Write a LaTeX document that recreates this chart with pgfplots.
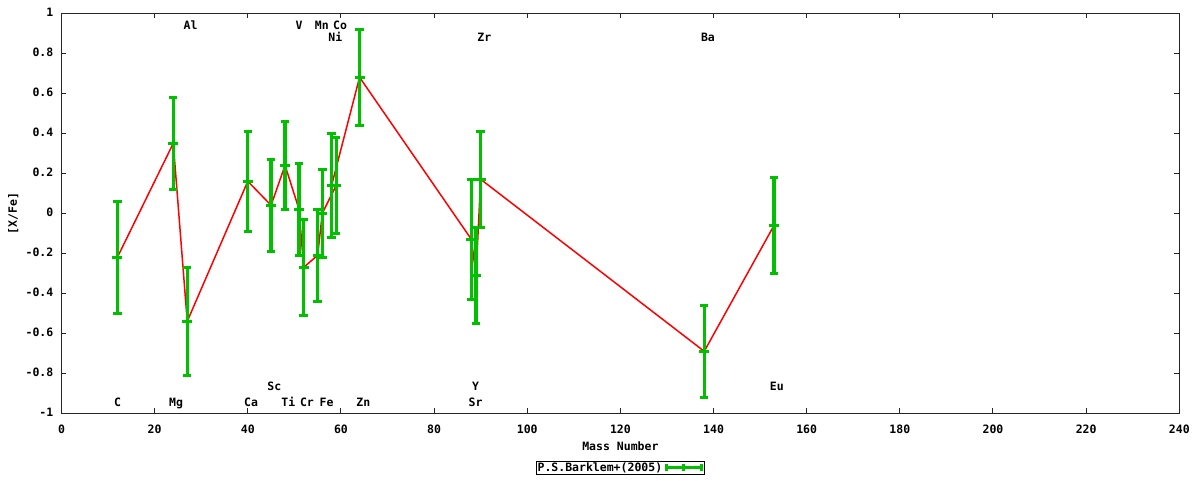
\documentclass[border=0pt]{standalone}
\usepackage{fontspec}
\setmainfont{DejaVu Sans Mono}
\usepackage{pgfplots}
\pgfplotsset{compat=1.18}
\definecolor{gpgreen}{RGB}{0,192,0}
\newcommand{\gpfont}{\fontsize{11.5}{12}\selectfont\bfseries}
\begin{document}
\begin{tikzpicture}
\path[use as bounding box] (-61.5pt,-66.7pt) rectangle (1138.5pt,413.3pt);
\begin{axis}[
  at={(0,0)}, anchor=south west,
  scale only axis, width=1117.8pt, height=400pt,
  xmin=0, xmax=240, ymin=-1, ymax=1,
  xtick={0,20,40,60,80,100,120,140,160,180,200,220,240},
  ytick={-1,-0.8,-0.6,-0.4,-0.2,0,0.2,0.4,0.6,0.8,1},
  tick align=inside, major tick length=5pt,
  xtick pos=both, ytick pos=both,
  axis line style={line width=1pt, black!85},
  tick style={line width=1pt, black!85},
  /pgf/number format/assume math mode=true,
  tick label style={font=\gpfont, inner sep=0pt},
  xticklabel style={anchor=base, yshift=-19.8pt},
  yticklabel style={anchor=mid east, xshift=-8pt},
  xlabel={Mass Number},
  ylabel={[X/Fe]},
  every axis x label/.style={at={(axis description cs:0.5,-0.092)}, anchor=base, font=\gpfont, inner sep=0pt},
  every axis y label/.style={at={(axis description cs:-0.0431,0.5)}, anchor=center, rotate=90, font=\gpfont, inner sep=0pt},
  legend plot pos=right,
  legend style={at={(axis description cs:0.5,-0.1367)}, anchor=center, draw=black, line width=1pt, inner sep=0.5pt, font=\gpfont, nodes={inner sep=1pt}},
  legend image code/.code={
    \draw[gpgreen, line width=3pt] (0pt,0pt) -- (38pt,0pt);
    \draw[gpgreen, line width=3pt] (1.5pt,-3.5pt) -- (1.5pt,3.5pt);
    \draw[gpgreen, line width=3pt] (36.5pt,-3.5pt) -- (36.5pt,3.5pt);
    \draw[gpgreen, line width=3pt] (19pt,-3.5pt) -- (19pt,3.5pt);
  },
]
\addplot[red, line width=1.5pt, forget plot] coordinates {
  (12,-0.22) (24,0.35) (27,-0.54) (40,0.16) (45,0.04) (48,0.24) (51,0.02) (52,-0.27)
  (55,-0.21) (56,0.00) (59,0.14) (58,0.14) (64,0.68) (88,-0.13) (89,-0.31) (90,0.17)
  (138,-0.69) (153,-0.06)
};
\addplot[gpgreen, only marks, mark=-, mark size=5pt, mark options={line width=3pt, gpgreen},
  error bars/.cd, y dir=both, y explicit,
  error bar style={line width=3.3pt, gpgreen},
  error mark options={rotate=90, mark size=4.2pt, line width=3pt, gpgreen}]
coordinates {
  (12,-0.22) +- (0,0.28)
  (24,0.35) +- (0,0.23)
  (27,-0.54) +- (0,0.27)
  (40,0.16) +- (0,0.25)
  (45,0.04) +- (0,0.23)
  (48,0.24) +- (0,0.22)
  (51,0.02) +- (0,0.23)
  (52,-0.27) +- (0,0.24)
  (55,-0.21) +- (0,0.23)
  (56,0.00) +- (0,0.22)
  (59,0.14) +- (0,0.24)
  (58,0.14) +- (0,0.26)
  (64,0.68) +- (0,0.24)
  (88,-0.13) +- (0,0.30)
  (89,-0.31) +- (0,0.24)
  (90,0.17) +- (0,0.24)
  (138,-0.69) +- (0,0.23)
  (153,-0.06) +- (0,0.24)
};
\addlegendentry{P.S.Barklem+(2005)}
% element labels
\begin{scope}[every node/.style={anchor=base, font=\gpfont, inner sep=0pt}]
\node at (axis cs:27.7,0.918) {Al};
\node at (axis cs:51.0,0.918) {V};
\node at (axis cs:55.9,0.918) {Mn};
\node at (axis cs:59.8,0.918) {Co};
\node at (axis cs:58.8,0.858) {Ni};
\node at (axis cs:90.8,0.858) {Zr};
\node at (axis cs:138.8,0.858) {Ba};
\node at (axis cs:45.7,-0.888) {Sc};
\node at (axis cs:88.9,-0.888) {Y};
\node at (axis cs:153.6,-0.888) {Eu};
\node at (axis cs:12.06,-0.968) {C};
\node at (axis cs:24.6,-0.968) {Mg};
\node at (axis cs:40.7,-0.968) {Ca};
\node at (axis cs:48.7,-0.968) {Ti};
\node at (axis cs:52.7,-0.968) {Cr};
\node at (axis cs:56.9,-0.968) {Fe};
\node at (axis cs:64.8,-0.968) {Zn};
\node at (axis cs:88.9,-0.968) {Sr};
\end{scope}
\end{axis}
\end{tikzpicture}
\end{document}
